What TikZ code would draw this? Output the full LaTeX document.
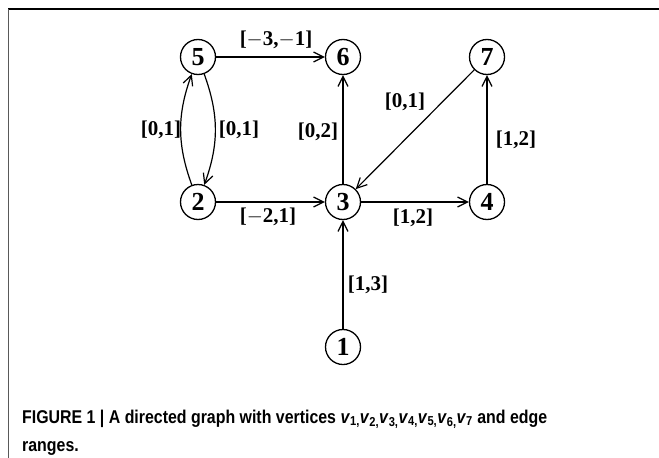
\documentclass[tikz,border=0pt]{standalone}
\usepackage{fontspec}
\setmainfont{Liberation Serif}
\newfontfamily\capfont[FakeStretch=0.86]{Liberation Sans}
\usetikzlibrary{arrows.meta}
\begin{document}
\begin{tikzpicture}[x=1pt,y=-1pt,
  vtx/.style={circle,draw,line width=1.3pt,minimum size=35pt,inner sep=0pt,font=\bfseries\fontsize{26}{26}\selectfont},
  edge/.style={line width=1.2pt,-{Straight Barb[length=10pt,width=10pt,line width=1.2pt]}},
  lbl/.style={font=\bfseries\fontsize{21}{21}\selectfont,inner sep=1pt}]
\useasboundingbox (0,0) rectangle (659,458);
\draw[line width=1.5pt] (8,9) -- (659,9);
\draw[line width=0.8pt,gray!70!black] (8,9) -- (8,458);
\node[vtx] (n5) at (198,57) {5};
\node[vtx] (n6) at (343,57) {6};
\node[vtx] (n7) at (487,57) {7};
\node[vtx] (n2) at (198,202) {2};
\node[vtx] (n3) at (343,202) {3};
\node[vtx] (n4) at (487,202) {4};
\node[vtx] (n1) at (343,347) {1};
\draw[edge] (n5) -- (n6);
\draw[edge] (n2) to[bend left=20] (n5);
\draw[edge] (n5) to[bend left=20] (n2);
\draw[edge] (n2) -- (n3);
\draw[edge] (n3) -- (n6);
\draw[edge] (n7) -- (n3);
\draw[edge] (n3) -- (n4);
\draw[edge] (n4) -- (n7);
\draw[edge] (n1) -- (n3);
\node[lbl] (l56) at (276,40) {[$-$3,$-$1]};
\node[lbl] (l25) at (161,130) {[0,1]};
\node[lbl] (l52) at (239,130) {[0,1]};
\node[lbl] (l36) at (318,132) {[0,2]};
\node[lbl] (l23) at (268,217) {[$-$2,1]};
\node[lbl] (l73) at (405,102) {[0,1]};
\node[lbl] (l47) at (516,140) {[1,2]};
\node[lbl] (l34) at (413,218) {[1,2]};
\node[lbl] (l13) at (368,285) {[1,3]};
\node[anchor=base west,inner sep=0pt,font=\capfont\bfseries\fontsize{18.5}{18.5}\selectfont] (cap1) at (22,423) {FIGURE 1 | A directed graph with vertices \textit{v}\textsubscript{1,}\textit{v}\textsubscript{2,}\textit{v}\textsubscript{3,}\textit{v}\textsubscript{4,}\textit{v}\textsubscript{5,}\textit{v}\textsubscript{6,}\textit{v}\textsubscript{7} and edge};
\node[anchor=base west,inner sep=0pt,font=\capfont\bfseries\fontsize{18.5}{18.5}\selectfont] (cap2) at (22,451) {ranges.};
\end{tikzpicture}
\end{document}
